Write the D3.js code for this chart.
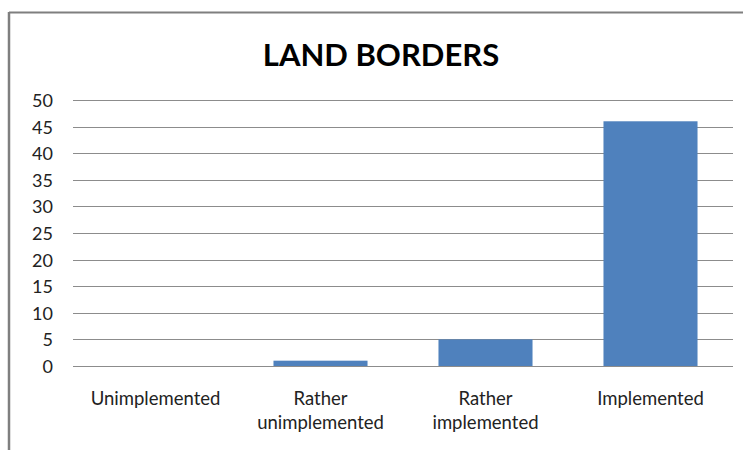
<!DOCTYPE html>
<html>
<head>
<meta charset="utf-8">
<script src="https://cdn.jsdelivr.net/npm/d3@7"></script>
<style>
  html, body { margin: 0; padding: 0; background: #fff; }
  svg { display: block; }
</style>
</head>
<body>
<svg id="chart" width="743" height="450"></svg>
<script>
// Chart data
const categories = [["Unimplemented"], ["Rather", "unimplemented"], ["Rather", "implemented"], ["Implemented"]];
const values = [0, 1, 5, 46];
const yTicks = [0, 5, 10, 15, 20, 25, 30, 35, 40, 45, 50];
const title = "LAND BORDERS";

const svg = d3.select("#chart");
const W = 743, H = 450;
const font = "Lato, 'Open Sans', sans-serif";

// Frame lines (top and left)
svg.append("line").attr("x1", 9).attr("x2", W).attr("y1", 12.5).attr("y2", 12.5)
  .attr("stroke", "#7f7f7f").attr("stroke-width", 2);
svg.append("line").attr("x1", 9).attr("x2", 9).attr("y1", 12).attr("y2", H)
  .attr("stroke", "#7f7f7f").attr("stroke-width", 2.5);

const x = d3.scaleBand()
  .domain(d3.range(categories.length))
  .range([73, 733])
  .paddingInner(0.43)
  .paddingOuter(0.215);

const y = d3.scaleLinear().domain([0, 50]).range([366, 100]);

// Gridlines
svg.append("g").selectAll("line").data(yTicks).join("line")
  .attr("x1", 73).attr("x2", 733)
  .attr("y1", d => Math.round(y(d)) + 0.5).attr("y2", d => Math.round(y(d)) + 0.5)
  .attr("stroke", "#8c8c8c").attr("stroke-width", 1);

// Y axis labels
const yAxis = d3.axisLeft(y).tickValues(yTicks).tickSize(0).tickPadding(0);
const gy = svg.append("g").attr("transform", "translate(53,0)").call(yAxis);
gy.select(".domain").remove();
gy.selectAll("text").attr("font-family", font).attr("font-size", 18).attr("fill", "#222")
  .attr("text-anchor", "end").attr("dy", "0.36em");

// Bars
svg.append("g").selectAll("rect").data(values).join("rect")
  .attr("x", (d, i) => x(i))
  .attr("width", x.bandwidth())
  .attr("y", d => y(d))
  .attr("height", d => y(0) - y(d))
  .attr("fill", "#4f81bd");

// Category labels
const xl = svg.append("g").selectAll("text").data(categories).join("text")
  .attr("x", (d, i) => x(i) + x.bandwidth() / 2)
  .attr("y", 405)
  .attr("text-anchor", "middle")
  .attr("font-family", font).attr("font-size", 18.5).attr("fill", "#222");
xl.selectAll("tspan").data(d => d).join("tspan")
  .attr("x", function () { return d3.select(this.parentNode).attr("x"); })
  .attr("dy", (d, i) => i === 0 ? 0 : 24)
  .text(d => d);

// Title
svg.append("text").attr("x", 381).attr("y", 66).attr("text-anchor", "middle")
  .attr("font-family", font).attr("font-weight", "bold").attr("font-size", 31)
  .attr("fill", "#000").text(title);
</script>
</body>
</html>
